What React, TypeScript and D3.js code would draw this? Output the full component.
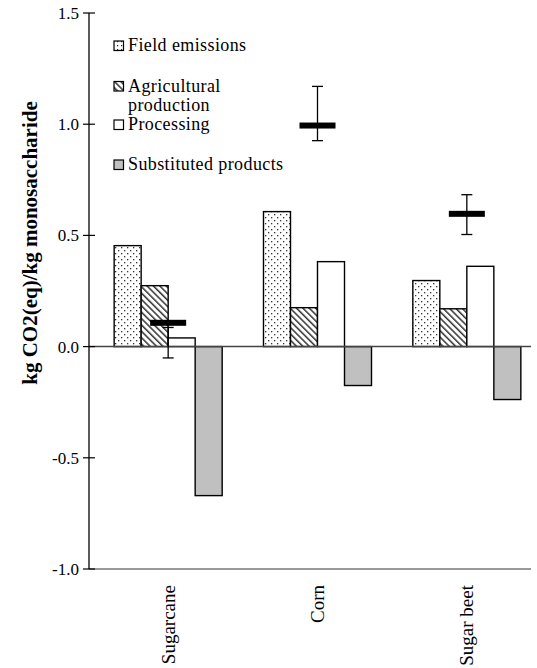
import React from "react";
import * as d3 from "d3";

const categories = ["Sugarcane", "Corn", "Sugar beet"];
const seriesNames = ["Field emissions", "Agricultural production", "Processing", "Substituted products"];
const fieldEmissions = [0.454, 0.607, 0.297];
const agriculturalProduction = [0.274, 0.175, 0.17];
const processing = [0.039, 0.382, 0.361];
const substitutedProducts = [-0.67, -0.175, -0.238];
const netValue = [0.107, 0.994, 0.597];
const netLow = [-0.051, 0.926, 0.504];
const netHigh = [0.086, 1.17, 0.683];
const yTicks = [-1.0, -0.5, 0.0, 0.5, 1.0, 1.5];

const seriesValues = [fieldEmissions, agriculturalProduction, processing, substitutedProducts];
const seriesFill = ["url(#dots)", "url(#hatch)", "#ffffff", "#c0c0c0"];

const W = 537;
const H = 668;
const axisX = 89;
const lineEnd = 531;
const font = "Liberation Serif, Tinos, Times New Roman, serif";
const fmt = (t: number) => d3.format(".1f")(t).replace("\u2212", "-");

export default function App() {
  const y = d3.scaleLinear().domain([-1, 1.5]).range([569, 13]);
  const x = d3.scaleBand().domain(categories).range([93.5, 541.5]).padding(0);
  const bw = x.bandwidth();
  const xs = d3.scaleBand().domain(seriesNames).range([0, bw]).paddingInner(0).paddingOuter(0.765);
  const barW = xs.bandwidth();

  const legendRows = [
    { name: "Field emissions", lines: ["Field emissions"], base: 51 },
    { name: "Agricultural production", lines: ["Agricultural", "production"], base: 91.5 },
    { name: "Processing", lines: ["Processing"], base: 130 },
    { name: "Substituted products", lines: ["Substituted products"], base: 170 },
  ];

  return (
    <svg width={W} height={H} style={{ position: "absolute", left: 0, top: 0, fontFamily: font }}>
      <defs>
        <pattern id="dots" width="6" height="6" patternUnits="userSpaceOnUse">
          <rect width="6" height="6" fill="#fff" />
          <rect x="1" y="1" width="1.3" height="1.3" fill="#333" />
          <rect x="4" y="4" width="1.3" height="1.3" fill="#333" />
        </pattern>
        <pattern id="hatch" width="4.5" height="4.5" patternUnits="userSpaceOnUse" patternTransform="rotate(-45)">
          <rect width="4.5" height="4.5" fill="#fff" />
          <rect x="0" y="0" width="1.5" height="4.5" fill="#333" />
        </pattern>
        <pattern id="dotsS" width="4" height="4" patternUnits="userSpaceOnUse">
          <rect width="4" height="4" fill="#fff" />
          <rect x="1" y="1" width="1.2" height="1.2" fill="#222" />
        </pattern>
      </defs>
      <rect width={W} height={H} fill="#fff" />

      {/* bars */}
      {categories.map((c, ci) => (
        <g key={c}>
          {seriesNames.map((s, si) => {
            const v = seriesValues[si][ci];
            const x0 = (x(c) as number) + (xs(s) as number);
            const y0 = Math.min(y(v), y(0));
            const h = Math.abs(y(v) - y(0));
            return (
              <rect key={s} x={x0} y={y0} width={barW} height={h} fill={seriesFill[si]} stroke="#000" strokeWidth={1.4} />
            );
          })}
        </g>
      ))}

      {/* zero line */}
      <line x1={axisX} x2={lineEnd} y1={y(0)} y2={y(0)} stroke="#444" strokeWidth={1.5} />
      {/* bottom line */}
      <line x1={axisX} x2={lineEnd} y1={y(-1)} y2={y(-1)} stroke="#777" strokeWidth={1.5} />

      {/* net markers */}
      {categories.map((c, ci) => {
        const cx = (x(c) as number) + bw / 2;
        return (
          <g key={c}>
            <line x1={cx} x2={cx} y1={y(netHigh[ci])} y2={y(netLow[ci])} stroke="#000" strokeWidth={1.3} />
            <line x1={cx - 5.5} x2={cx + 5.5} y1={y(netHigh[ci])} y2={y(netHigh[ci])} stroke="#000" strokeWidth={1.3} />
            <line x1={cx - 5.5} x2={cx + 5.5} y1={y(netLow[ci])} y2={y(netLow[ci])} stroke="#000" strokeWidth={1.3} />
            <rect x={cx - 18} y={y(netValue[ci]) - 3} width={36} height={6} fill="#000" />
          </g>
        );
      })}

      {/* y axis */}
      <line x1={axisX} x2={axisX} y1={y(1.5)} y2={y(-1)} stroke="#000" strokeWidth={1.3} />
      {yTicks.map((t) => (
        <g key={t}>
          <line x1={axisX - 6} x2={axisX + 6} y1={y(t)} y2={y(t)} stroke="#000" strokeWidth={1.2} />
          <text x={79} y={y(t)} dy="0.35em" textAnchor="end" style={{ fontFamily: font, fontSize: 17 }}>
            {fmt(t)}
          </text>
        </g>
      ))}

      {/* y title */}
      <text
        transform={`translate(30, ${243}) rotate(-90)`}
        textAnchor="middle"
        dy="0.35em"
        style={{ fontFamily: font, fontWeight: "bold", fontSize: 21 }}
      >
        kg CO2(eq)/kg monosaccharide
      </text>

      {/* category labels */}
      {categories.map((c) => {
        const cx = (x(c) as number) + bw / 2;
        return (
          <text
            key={c}
            transform={`translate(${cx}, 585) rotate(-90)`}
            textAnchor="end"
            dy="0.35em"
            style={{ fontFamily: font, fontSize: 19 }}
          >
            {c}
          </text>
        );
      })}

      {/* legend */}
      {legendRows.map((r, i) => (
        <g key={r.name}>
          <rect x={114} y={r.base - 10} width={9.5} height={9.5} fill={i === 0 ? "url(#dotsS)" : seriesFill[i]} stroke="#000" strokeWidth={1.2} />
          {r.lines.map((ln, li) => (
            <text key={ln} x={128} y={r.base + li * 19.5} style={{ fontFamily: font, fontSize: 18, letterSpacing: 0.4 }}>
              {ln}
            </text>
          ))}
        </g>
      ))}
    </svg>
  );
}
